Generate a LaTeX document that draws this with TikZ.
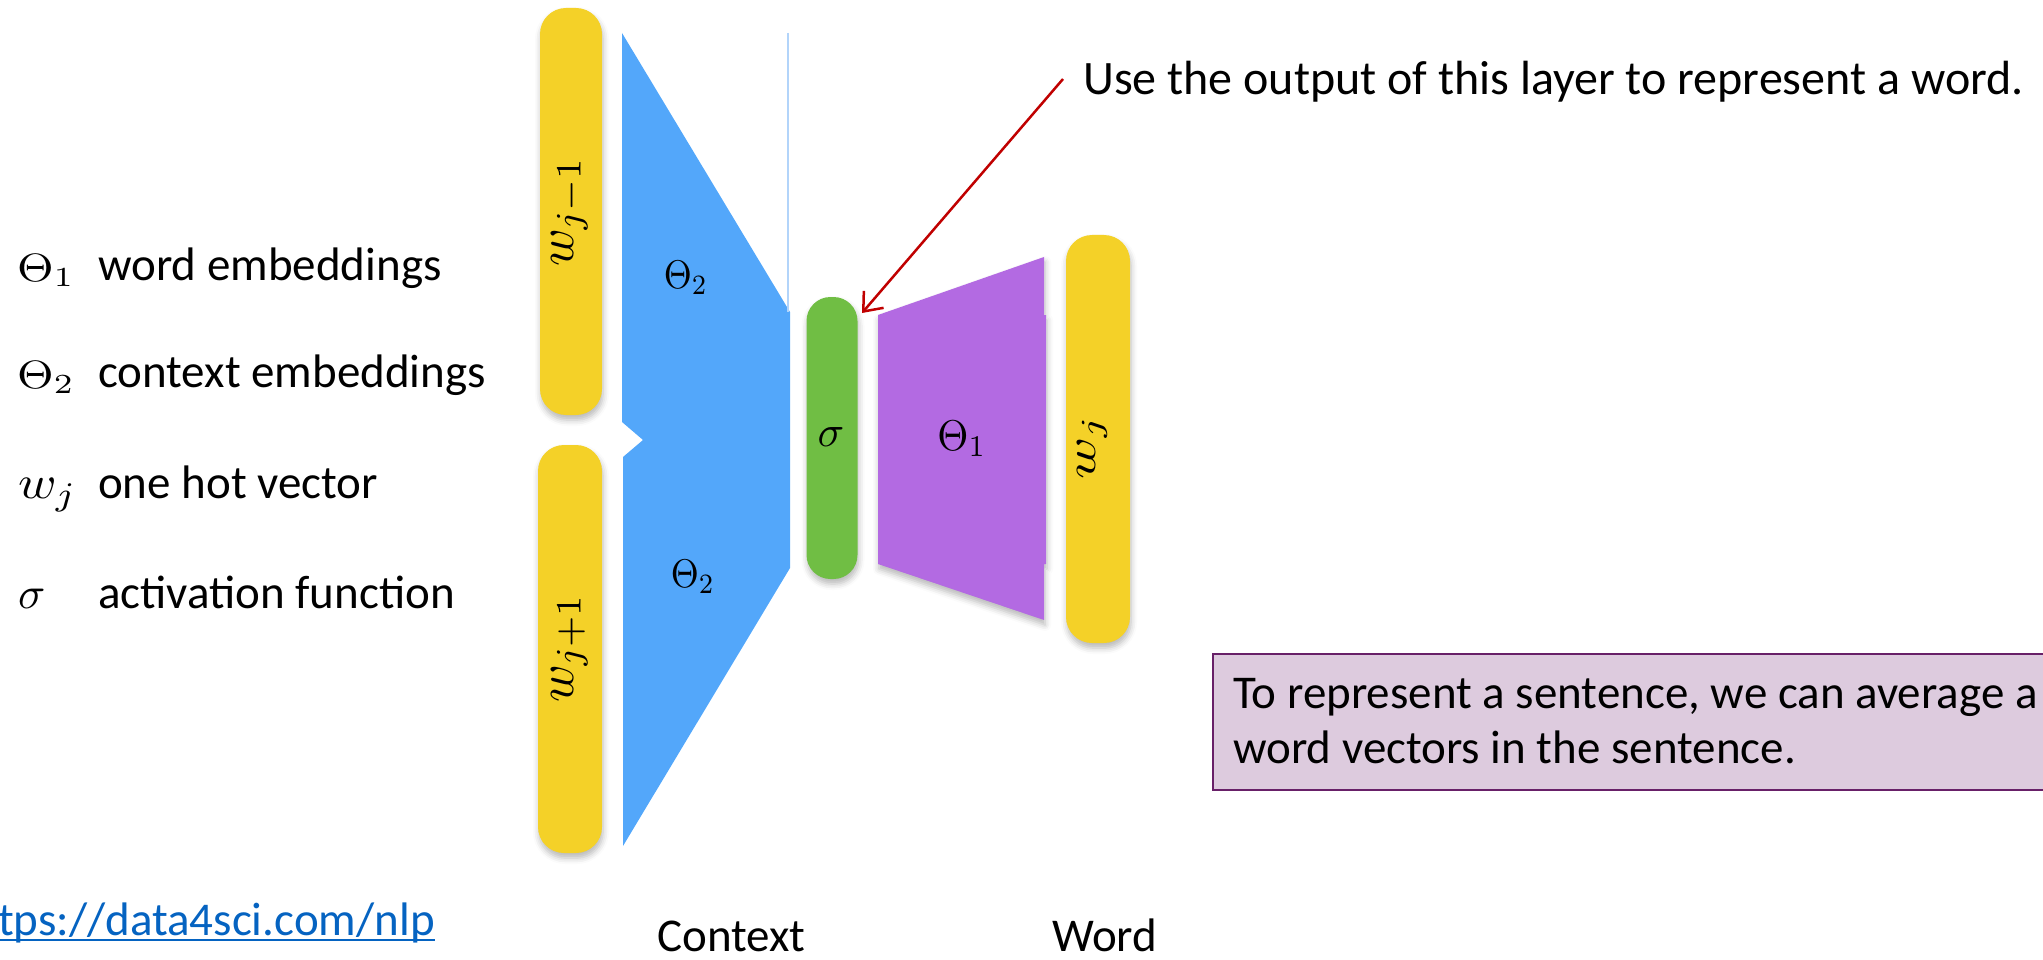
\documentclass[tikz,border=0pt]{standalone}
\usepackage{graphicx}
\usepackage[no-math]{fontspec}
\setmainfont{Carlito}
\usetikzlibrary{arrows.meta,shadows.blur,calc}
\definecolor{barYellow}{RGB}{244,209,40}
\definecolor{ctxBlue}{RGB}{83,167,250}
\definecolor{thinBlue}{RGB}{178,212,250}
\definecolor{sigGreen}{RGB}{112,190,68}
\definecolor{wordPurple}{RGB}{179,106,226}
\definecolor{noteFill}{RGB}{221,203,222}
\definecolor{noteLine}{RGB}{104,32,104}
\definecolor{arrowRed}{RGB}{192,0,0}
\definecolor{linkBlue}{RGB}{5,99,193}
\tikzset{
  softshadow/.style={blur shadow={shadow xshift=1pt, shadow yshift=-5pt, shadow blur radius=6pt, shadow opacity=28}},
  ybar/.style={fill=barYellow, rounded corners=26pt, inner sep=0pt, softshadow},
  gbar/.style={fill=sigGreen, rounded corners=24pt, inner sep=0pt, softshadow},
  txt/.style={inner sep=0pt, font=\fontsize{47}{55}\selectfont},
  mlab/.style={inner sep=0pt, font=\normalsize},
  wlab/.style={inner sep=0pt, rotate=90, anchor=base, font=\normalsize},
  redarrow/.style={draw=arrowRed, line width=2.5pt, -{Straight Barb[length=16pt,width=26pt,line width=2.5pt]}},
  notebox/.style={draw=noteLine, line width=2pt, fill=noteFill, inner sep=0pt}
}
\begin{document}
\begin{tikzpicture}[x=1pt,y=-1pt]
\useasboundingbox (0,0) rectangle (2043,960);
% context (blue) layer
\fill[ctxBlue] (622,33) -- (790,312) -- (790,568) -- (623,846) -- (623,457) -- (643,440) -- (622,422) -- cycle;
\draw[thinBlue, line width=1.2pt] (788,33) -- (788,312);
% word (purple) layer
\fill[wordPurple, softshadow] (878,315) -- (1044,257) -- (1044,315) -- (1046,315) -- (1046,564) -- (1044,564) -- (1044,620) -- (878,564) -- cycle;
% bars
\node[ybar, minimum width=62pt, minimum height=407pt] (wprev) at (571,211.5) {};
\node[ybar, minimum width=64pt, minimum height=408pt] (wnext) at (570,649) {};
\node[gbar, minimum width=51pt, minimum height=282pt] (sig) at (832,438) {};
\node[ybar, minimum width=64pt, minimum height=408pt] (wj) at (1098,439) {};
% labels in the diagram
\node[wlab] (lwprev) at (573,211.5) {\scalebox{5.1}{$w_{j-1}$}};
\node[wlab] (lwnext) at (573,648) {\scalebox{5.1}{$w_{j+1}$}};
\node[wlab] (lwj) at (1095,447) {\scalebox{5.7}[4.2]{$w_j$}};
\node[mlab] (th2a) at (686,278) {\scalebox{3.6}[4.0]{$\Theta_2$}};
\node[mlab] (th2b) at (693,577) {\scalebox{3.6}[4.0]{$\Theta_2$}};
\node[mlab] (lsig) at (831,437) {\scalebox{4.4}{$\sigma$}};
\node[mlab] (th1) at (962,439) {\scalebox{4.0}[4.3]{$\Theta_1$}};
% legend
\node[mlab, anchor=base west] (m1) at (17,281) {\scalebox{4.7}[3.95]{$\Theta_1$}};
\node[txt, anchor=base west] (t1) at (98,280) {word embeddings};
\node[mlab, anchor=base west] (m2) at (17,388) {\scalebox{4.7}[3.95]{$\Theta_2$}};
\node[txt, anchor=base west] (t2) at (98,387) {context embeddings};
\node[mlab, anchor=base west] (m3) at (18,498) {\scalebox{5.2}[4.7]{$w_j$}};
\node[txt, anchor=base west] (t3) at (98,498) {one hot vector};
\node[mlab, anchor=base west] (m4) at (18,608) {\scalebox{4.5}{$\sigma$}};
\node[txt, anchor=base west] (t4) at (98,608) {activation function};
% annotation and arrow
\node[txt, anchor=base west, font=\fontsize{48}{56}\selectfont] (use) at (1083,95) {Use the output of this layer to represent a word.};
\coordinate (astart) at (1063,79);
\coordinate (atip) at (862,313);
\draw[redarrow] (astart) -- (atip);
% note box
\node[notebox, anchor=north west, minimum width=900pt, minimum height=136pt] (note) at (1212,653) {};
\node[txt, anchor=base west] (n1) at (1233,708) {To represent a sentence, we can average a};
\node[txt, anchor=base west] (n2) at (1233,763) {word vectors in the sentence.};
% bottom captions
\node[txt, anchor=base west] (ctx) at (657,951) {Context};
\node[txt, anchor=base west] (wrd) at (1052,951) {Word};
\node[txt, anchor=base east, text=linkBlue] (url) at (435,935) {tps://data4sci.com/nlp};
\draw[linkBlue, line width=2pt] ($(url.base west)+(0,5)$) -- ($(url.base east)+(0,5)$);
\end{tikzpicture}
\end{document}
